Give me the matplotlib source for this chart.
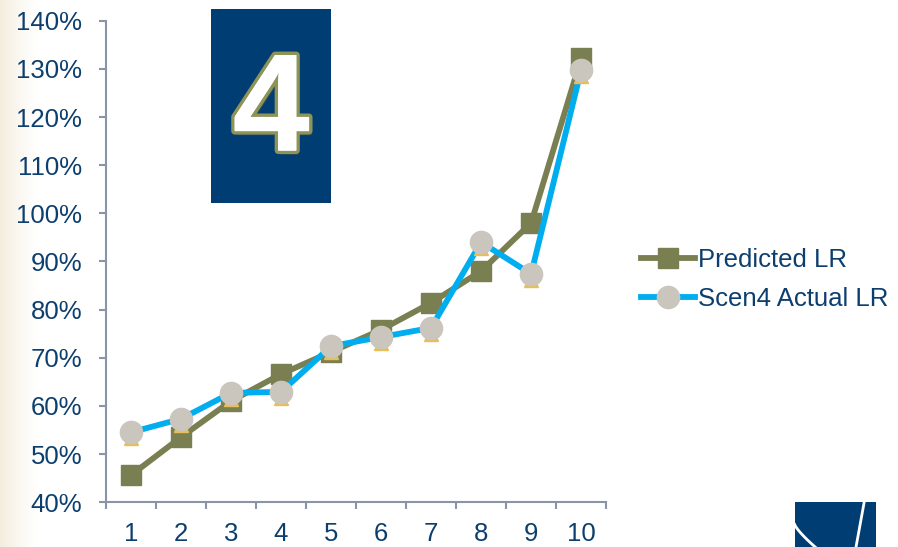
import numpy as np
import matplotlib.pyplot as plt
import matplotlib.patheffects as pe
from matplotlib import transforms
from matplotlib.patches import Rectangle
from matplotlib.lines import Line2D

plt.rcParams["font.family"] = ["Liberation Sans", "DejaVu Sans"]

# ---------------------------------------------------------------------------
# Data
# ---------------------------------------------------------------------------
periods = [1, 2, 3, 4, 5, 6, 7, 8, 9, 10]
predicted_lr = [45.6, 53.5, 61.0, 66.6, 71.2, 75.8, 81.4, 88.0, 98.0, 132.2]
actual_lr = [54.5, 57.3, 62.7, 62.9, 72.4, 74.3, 76.2, 94.0, 87.4, 129.8]
y_ticks = [40, 50, 60, 70, 80, 90, 100, 110, 120, 130, 140]

NAVY = "#003d73"
TEXT = "#0d3f6e"
OLIVE = "#7a7f52"
BLUE = "#00aeef"
PEARL = "#cbc6bd"
GOLD = "#e6bf5c"
AXIS = "#8b93a6"

fig = plt.figure(figsize=(8.98, 5.47), dpi=100)

# faint beige edge on the left of the slide
bg = fig.add_axes([0, 0, 1, 1], zorder=-10)
grad = np.linspace(1, 0, 300) ** 1.5
img = np.ones((10, 300, 4))
img[..., 0] = 0.93
img[..., 1] = 0.88
img[..., 2] = 0.78
img[..., 3] = grad * 0.6
bg.imshow(img, extent=[0, 0.045, 0, 1], aspect="auto")
bg.set_xlim(0, 1)
bg.set_ylim(0, 1)
bg.axis("off")

ax = fig.add_axes([0.118, 0.082, 0.557, 0.880])
x = np.arange(len(periods))

ax.plot(x, predicted_lr, color=OLIVE, lw=4.2, marker="s", ms=14,
        mfc=OLIVE, mec=OLIVE, label="Predicted LR", zorder=3)
ax.plot(x, actual_lr, color=BLUE, lw=4.2, zorder=4)

# small gold base under each circle marker
base = transforms.offset_copy(ax.transData, fig=fig, x=0, y=-6, units="dots")
ax.plot(x, actual_lr, ls="none", marker="^", ms=10, mfc=GOLD, mec=GOLD,
        transform=base, zorder=5)
ax.plot(x, actual_lr, ls="none", marker="o", ms=16, mfc=PEARL, mec=PEARL, zorder=6)

ax.set_xlim(-0.5, len(periods) - 0.5)
ax.set_ylim(40, 140)
ax.set_yticks(y_ticks)
ax.set_yticklabels([f"{v}%" for v in y_ticks])
ax.set_xticks(x)
ax.set_xticklabels([str(p) for p in periods])
ax.set_xticks(np.arange(len(periods) + 1) - 0.5, minor=True)
ax.tick_params(axis="x", which="major", length=0, pad=14)
ax.tick_params(axis="x", which="minor", length=5, width=1.5, color=AXIS, direction="out")
ax.tick_params(axis="y", length=5, width=1.5, color=AXIS, direction="out", pad=12)
ax.tick_params(labelsize=18.5, labelcolor=TEXT)
for side in ("top", "right"):
    ax.spines[side].set_visible(False)
for side in ("left", "bottom"):
    ax.spines[side].set_color(AXIS)
    ax.spines[side].set_linewidth(1.5)

# legend built from line handles
handles = [
    Line2D([], [], color=OLIVE, lw=4.2, marker="s", ms=14, mfc=OLIVE, mec=OLIVE),
    Line2D([], [], color=BLUE, lw=4.2, marker="o", ms=16, mfc=PEARL, mec=PEARL),
]
fig.legend(handles, ["Predicted LR", "Scen4 Actual LR"], loc="center left",
           bbox_to_anchor=(0.714, 0.489), frameon=False, fontsize=18.5,
           labelcolor=TEXT, handlelength=2.1, handletextpad=0.1,
           labelspacing=0.55, borderpad=0, borderaxespad=0)

# scenario number badge
badge = fig.add_axes([0.235, 0.629, 0.134, 0.355])
badge.add_patch(Rectangle((0, 0), 1, 1, color=NAVY))
badge.set_xlim(0, 1)
badge.set_ylim(0, 1)
badge.axis("off")
badge.text(0.5, 0.455, "4", ha="center", va="center", fontsize=100,
           color="white", fontweight="bold",
           path_effects=[pe.SimplePatchShadow(offset=(2, -3), alpha=0.55),
                         pe.withStroke(linewidth=5, foreground="#8c9458"),
                         pe.Normal()])

# corner logo fragment
logo = fig.add_axes([0.885, 0.0, 0.091, 0.082])
logo.add_patch(Rectangle((0, 0), 1, 1, color=NAVY))
t = np.linspace(0, 1, 50)
logo.plot(0.0 + 0.25 * t, 0.5 - 0.5 * t ** 0.8, color="white", lw=2)
logo.plot(0.85 - 0.1 * t, 1.0 - 1.0 * t, color="white", lw=2)
logo.set_xlim(0, 1)
logo.set_ylim(0, 1)
logo.axis("off")

fig.savefig("out.png", dpi=100)
